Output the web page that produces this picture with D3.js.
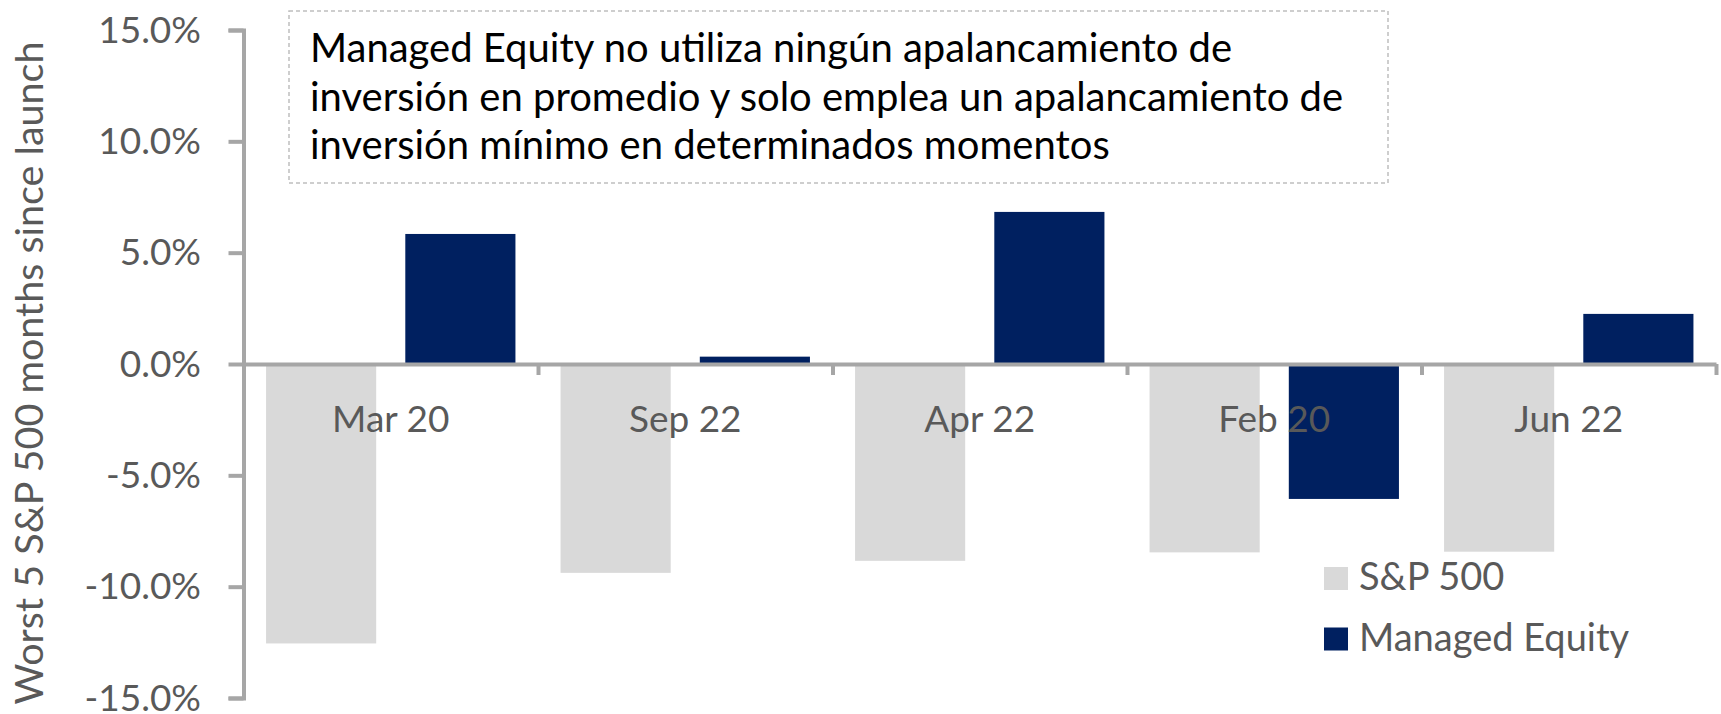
<!DOCTYPE html>
<html>
<head>
<meta charset="utf-8">
<script src="https://cdn.jsdelivr.net/npm/d3@7"></script>
<style>
  html, body { margin: 0; padding: 0; background: #fff; }
  svg { display: block; font-family: Lato, "Open Sans", sans-serif; }
</style>
</head>
<body>
<svg id="chart" width="1721" height="714"></svg>
<script>
// chart data
const months = ["Mar 20", "Sep 22", "Apr 22", "Feb 20", "Jun 22"];
const seriesNames = ["S&P 500", "Managed Equity"];
const sp500 = [-12.55, -9.38, -8.84, -8.46, -8.43];
const managedEquity = [5.84, 0.33, 6.83, -6.06, 2.25];
const yTicks = [-15, -10, -5, 0, 5, 10, 15];
const yTitle = "Worst 5 S&P 500 months since launch";
const noteLines = [
  "Managed Equity no utiliza ningún apalancamiento de",
  "inversión en promedio y solo emplea un apalancamiento de",
  "inversión mínimo en determinados momentos"
];

(function () {
  const svg = d3.select("#chart");
  const colors = ["#D9D9D9", "#002060"];
  const axisColor = "#A6A6A6";
  const textColor = "#595959";

  const left = 243.5, right = 1716;
  const top = 30, bottom = 698;

  const x0 = d3.scaleBand().domain(months).range([left, right]).padding(0);
  const x1 = d3.scaleBand().domain(seriesNames).range([0, x0.bandwidth()])
    .paddingInner(0.209).paddingOuter(0.162);
  const y = d3.scaleLinear().domain([-15, 15]).range([bottom, top]);

  const data = months.map((m, i) => ({
    month: m,
    values: [
      { key: seriesNames[0], value: sp500[i] },
      { key: seriesNames[1], value: managedEquity[i] }
    ]
  }));

  // bars
  const groups = svg.append("g")
    .selectAll("g")
    .data(data)
    .join("g")
    .attr("transform", d => `translate(${x0(d.month)},0)`);

  groups.selectAll("rect")
    .data(d => d.values)
    .join("rect")
    .attr("x", d => x1(d.key))
    .attr("width", x1.bandwidth())
    .attr("y", d => y(Math.max(0, d.value)))
    .attr("height", d => Math.abs(y(d.value) - y(0)))
    .attr("fill", (d, i) => colors[i]);

  // category boundary axis along zero line
  const xi = d3.scaleLinear().domain([0, months.length]).range([left, right]);
  const xAxis = svg.append("g")
    .attr("transform", `translate(0,${y(0)})`)
    .call(d3.axisBottom(xi).tickValues(d3.range(1, months.length + 1))
      .tickSize(11).tickSizeOuter(0).tickFormat(""));
  xAxis.selectAll("path, line").attr("stroke", axisColor).attr("stroke-width", 4);

  // category labels
  svg.append("g")
    .selectAll("text")
    .data(months)
    .join("text")
    .attr("x", d => x0(d) + x0.bandwidth() / 2)
    .attr("y", y(0) + 67.5)
    .attr("text-anchor", "middle")
    .attr("fill", textColor)
    .style("font-size", "37px")
    .text(d => d);

  // y axis
  const yAxis = svg.append("g")
    .attr("transform", `translate(${left},0)`)
    .call(d3.axisLeft(y).tickValues(yTicks).tickSize(15).tickSizeOuter(15)
      .tickPadding(27.5).tickFormat(d => d.toFixed(1) + "%"));
  yAxis.selectAll("path, line").attr("stroke", axisColor).attr("stroke-width", 4);
  yAxis.selectAll("text")
    .attr("fill", textColor)
    .attr("dy", "0.33em")
    .style("font-size", "37px")
    .style("font-family", "Lato, sans-serif");

  // y title
  svg.append("text")
    .attr("transform", `translate(43,373) rotate(-90)`)
    .attr("text-anchor", "middle")
    .attr("fill", textColor)
    .style("font-size", "39.5px")
    .text(yTitle);

  // note box
  const note = svg.append("g");
  note.append("rect")
    .attr("x", 289).attr("y", 11)
    .attr("width", 1099).attr("height", 172)
    .attr("fill", "#fff")
    .attr("stroke", "#BFBFBF")
    .attr("stroke-width", 1.5)
    .attr("stroke-dasharray", "4,3");
  note.selectAll("text")
    .data(noteLines)
    .join("text")
    .attr("x", 310)
    .attr("y", (d, i) => 62 + i * 48.5)
    .attr("fill", "#000")
    .style("font-size", "40px")
    .text(d => d);

  // legend
  const legend = svg.append("g")
    .selectAll("g")
    .data(seriesNames)
    .join("g")
    .attr("transform", (d, i) => `translate(1324,${567 + i * 60.5})`);
  legend.append("rect")
    .attr("width", 24).attr("height", 23)
    .attr("fill", (d, i) => colors[i]);
  legend.append("text")
    .attr("x", 35).attr("y", 23)
    .attr("fill", textColor)
    .style("font-size", "38px")
    .text(d => d);
})();
</script>
</body>
</html>
